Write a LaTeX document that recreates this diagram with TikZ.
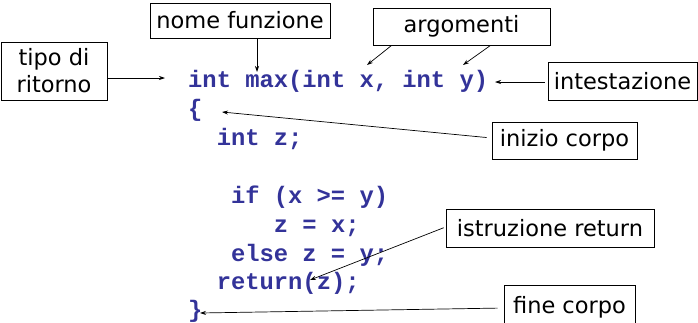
\documentclass[tikz,border=0pt]{standalone}
\usepackage{fontspec}
\usetikzlibrary{arrows.meta,positioning}
\newfontfamily\labelfont{DejaVu Sans}
\newfontfamily\codefont{Liberation Mono}
\definecolor{codeblue}{RGB}{51,51,153}

\begin{document}
\begin{tikzpicture}[x=1pt, y=-1pt, >={Stealth[length=6pt,width=4pt]},
  box/.style={draw, line width=0.9pt, inner sep=0pt, align=center, font=\labelfont\fontsize{22.5}{27}\selectfont},
  code/.style={anchor=base west, inner sep=0pt, text=codeblue, font=\codefont\bfseries\fontsize{23.8}{29}\selectfont},
  arr/.style={->, line width=0.7pt}]
  \useasboundingbox (0,0) rectangle (698,322);

  % Labels
  \node[box, minimum width=180pt, minimum height=35pt] (nome) at (240,20.5) {nome funzione};
  \node[box, minimum width=177pt, minimum height=37pt] (argom) at (461.5,26.5) {argomenti};
  \node[box, minimum width=106pt, minimum height=58pt] (tipo) at (54,71) {tipo di\\ritorno};
  \node[box, minimum width=149pt, minimum height=38pt] (intest) at (622.5,81) {intestazione};
  \node[box, minimum width=145pt, minimum height=37pt] (inizio) at (564.5,140.5) {inizio corpo};
  \node[box, minimum width=208pt, minimum height=38pt] (istr) at (550,228) {istruzione return};
  \node[box, minimum width=131pt, minimum height=44pt] (fine) at (569.5,307) {fine corpo};

  % Code
  \node[code] (l0) at (188,87) {int max(int x, int y)};
  \node[code] (l1) at (188,116) {\{};
  \node[code] (l2) at (216.6,145) {int z;};
  \node[code] (l3) at (230.8,203) {if (x >= y)};
  \node[code] (l4) at (273.7,232) {z = x;};
  \node[code] (l5) at (230.8,261) {else z = y;};
  \node[code] (l6) at (216.6,289) {return(z);};
  \node[code] (l7) at (188,317) {\}};

  % Arrow ends
  \coordinate (fmax) at (257,72);
  \coordinate (argx) at (367,65);
  \coordinate (argy) at (463,65);
  \coordinate (rtype) at (165,78);
  \coordinate (head) at (495,82);
  \coordinate (bopen) at (222,112);
  \coordinate (retz) at (310,280);
  \coordinate (bclose) at (200,313);

  % Arrows
  \draw[arr] (nome.south -| fmax) -- (fmax);
  \draw[arr] ([xshift=19pt]argom.south west) -- (argx);
  \draw[arr] ([xshift=-60pt]argom.south east) -- (argy);
  \draw[arr] (tipo.east |- rtype) -- (rtype);
  \draw[arr, shorten <=3pt] (intest.west |- head) -- (head);
  \draw[arr, shorten <=5pt] ([yshift=2.5pt]inizio.west) -- (bopen);
  \draw[arr, shorten <=2pt] ([yshift=1pt]istr.west) -- (retz);
  \draw[arr, shorten <=6pt] ([yshift=-1pt]fine.west) -- (bclose);
\end{tikzpicture}
\end{document}
